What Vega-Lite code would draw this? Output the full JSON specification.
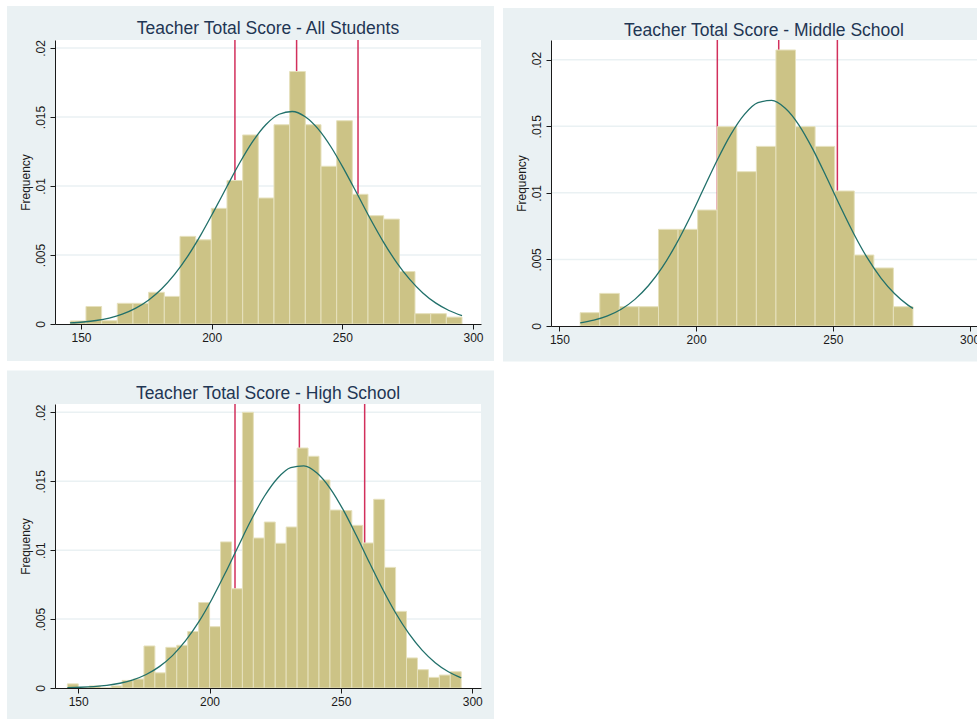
{
  "$schema": "https://vega.github.io/schema/vega-lite/v6.json",
  "padding": {"left": 6, "top": 5, "right": 0, "bottom": 0},
  "background": "white",
  "datasets": {
    "bars": [
      {"panel": "All", "lo": 145.90, "hi": 151.90, "f": 0.00022},
      {"panel": "All", "lo": 151.90, "hi": 157.89, "f": 0.00127},
      {"panel": "All", "lo": 157.89, "hi": 163.89, "f": 0.00024},
      {"panel": "All", "lo": 163.89, "hi": 169.88, "f": 0.0015},
      {"panel": "All", "lo": 169.88, "hi": 175.88, "f": 0.0015},
      {"panel": "All", "lo": 175.88, "hi": 181.88, "f": 0.0023},
      {"panel": "All", "lo": 181.88, "hi": 187.87, "f": 0.0020},
      {"panel": "All", "lo": 187.87, "hi": 193.87, "f": 0.00635},
      {"panel": "All", "lo": 193.87, "hi": 199.86, "f": 0.0061},
      {"panel": "All", "lo": 199.86, "hi": 205.86, "f": 0.00838},
      {"panel": "All", "lo": 205.86, "hi": 211.86, "f": 0.0104},
      {"panel": "All", "lo": 211.86, "hi": 217.85, "f": 0.0137},
      {"panel": "All", "lo": 217.85, "hi": 223.85, "f": 0.00913},
      {"panel": "All", "lo": 223.85, "hi": 229.84, "f": 0.01444},
      {"panel": "All", "lo": 229.84, "hi": 235.84, "f": 0.0183},
      {"panel": "All", "lo": 235.84, "hi": 241.84, "f": 0.01444},
      {"panel": "All", "lo": 241.84, "hi": 247.83, "f": 0.01143},
      {"panel": "All", "lo": 247.83, "hi": 253.83, "f": 0.01473},
      {"panel": "All", "lo": 253.83, "hi": 259.82, "f": 0.0094},
      {"panel": "All", "lo": 259.82, "hi": 265.82, "f": 0.00785},
      {"panel": "All", "lo": 265.82, "hi": 271.82, "f": 0.0076},
      {"panel": "All", "lo": 271.82, "hi": 277.81, "f": 0.0038},
      {"panel": "All", "lo": 277.81, "hi": 283.81, "f": 0.00075},
      {"panel": "All", "lo": 283.81, "hi": 289.80, "f": 0.00075},
      {"panel": "All", "lo": 289.80, "hi": 295.80, "f": 0.0005},
      {"panel": "Middle", "lo": 157.60, "hi": 164.76, "f": 0.0010},
      {"panel": "Middle", "lo": 164.76, "hi": 171.92, "f": 0.00245},
      {"panel": "Middle", "lo": 171.92, "hi": 179.08, "f": 0.00145},
      {"panel": "Middle", "lo": 179.08, "hi": 186.24, "f": 0.00145},
      {"panel": "Middle", "lo": 186.24, "hi": 193.40, "f": 0.00726},
      {"panel": "Middle", "lo": 193.40, "hi": 200.55, "f": 0.00726},
      {"panel": "Middle", "lo": 200.55, "hi": 207.71, "f": 0.00871},
      {"panel": "Middle", "lo": 207.71, "hi": 214.87, "f": 0.01497},
      {"panel": "Middle", "lo": 214.87, "hi": 222.03, "f": 0.01159},
      {"panel": "Middle", "lo": 222.03, "hi": 229.19, "f": 0.01349},
      {"panel": "Middle", "lo": 229.19, "hi": 236.35, "f": 0.02073},
      {"panel": "Middle", "lo": 236.35, "hi": 243.51, "f": 0.01497},
      {"panel": "Middle", "lo": 243.51, "hi": 250.67, "f": 0.01349},
      {"panel": "Middle", "lo": 250.67, "hi": 257.83, "f": 0.01014},
      {"panel": "Middle", "lo": 257.83, "hi": 264.99, "f": 0.00533},
      {"panel": "Middle", "lo": 264.99, "hi": 272.14, "f": 0.00436},
      {"panel": "Middle", "lo": 272.14, "hi": 279.30, "f": 0.00145},
      {"panel": "High", "lo": 145.90, "hi": 150.06, "f": 0.0003},
      {"panel": "High", "lo": 150.06, "hi": 154.23, "f": 0},
      {"panel": "High", "lo": 154.23, "hi": 158.39, "f": 0.00015},
      {"panel": "High", "lo": 158.39, "hi": 162.56, "f": 0},
      {"panel": "High", "lo": 162.56, "hi": 166.72, "f": 0.00015},
      {"panel": "High", "lo": 166.72, "hi": 170.88, "f": 0.00055},
      {"panel": "High", "lo": 170.88, "hi": 175.05, "f": 0.00065},
      {"panel": "High", "lo": 175.05, "hi": 179.21, "f": 0.00305},
      {"panel": "High", "lo": 179.21, "hi": 183.38, "f": 0.0011},
      {"panel": "High", "lo": 183.38, "hi": 187.54, "f": 0.00295},
      {"panel": "High", "lo": 187.54, "hi": 191.70, "f": 0.0031},
      {"panel": "High", "lo": 191.70, "hi": 195.87, "f": 0.0041},
      {"panel": "High", "lo": 195.87, "hi": 200.03, "f": 0.0062},
      {"panel": "High", "lo": 200.03, "hi": 204.20, "f": 0.00445},
      {"panel": "High", "lo": 204.20, "hi": 208.36, "f": 0.0106},
      {"panel": "High", "lo": 208.36, "hi": 212.52, "f": 0.0072},
      {"panel": "High", "lo": 212.52, "hi": 216.69, "f": 0.0200},
      {"panel": "High", "lo": 216.69, "hi": 220.85, "f": 0.01088},
      {"panel": "High", "lo": 220.85, "hi": 225.02, "f": 0.01204},
      {"panel": "High", "lo": 225.02, "hi": 229.18, "f": 0.0105},
      {"panel": "High", "lo": 229.18, "hi": 233.34, "f": 0.01168},
      {"panel": "High", "lo": 233.34, "hi": 237.51, "f": 0.01741},
      {"panel": "High", "lo": 237.51, "hi": 241.67, "f": 0.01681},
      {"panel": "High", "lo": 241.67, "hi": 245.84, "f": 0.01509},
      {"panel": "High", "lo": 245.84, "hi": 250.00, "f": 0.01291},
      {"panel": "High", "lo": 250.00, "hi": 254.16, "f": 0.01287},
      {"panel": "High", "lo": 254.16, "hi": 258.33, "f": 0.0118},
      {"panel": "High", "lo": 258.33, "hi": 262.49, "f": 0.01052},
      {"panel": "High", "lo": 262.49, "hi": 266.66, "f": 0.01369},
      {"panel": "High", "lo": 266.66, "hi": 270.82, "f": 0.00875},
      {"panel": "High", "lo": 270.82, "hi": 274.98, "f": 0.00556},
      {"panel": "High", "lo": 274.98, "hi": 279.15, "f": 0.00218},
      {"panel": "High", "lo": 279.15, "hi": 283.31, "f": 0.00133},
      {"panel": "High", "lo": 283.31, "hi": 287.48, "f": 0.00077},
      {"panel": "High", "lo": 287.48, "hi": 291.64, "f": 0.00094},
      {"panel": "High", "lo": 291.64, "hi": 295.80, "f": 0.00118}
    ],
    "curve": [
      {"panel": "All", "x": 145.8, "d": 0.0000781},
      {"panel": "All", "x": 150.8, "d": 0.000144},
      {"panel": "All", "x": 155.8, "d": 0.000254},
      {"panel": "All", "x": 160.8, "d": 0.000434},
      {"panel": "All", "x": 165.8, "d": 0.000713},
      {"panel": "All", "x": 170.8, "d": 0.00113},
      {"panel": "All", "x": 175.8, "d": 0.00172},
      {"panel": "All", "x": 180.8, "d": 0.00253},
      {"panel": "All", "x": 185.8, "d": 0.00359},
      {"panel": "All", "x": 190.8, "d": 0.00490},
      {"panel": "All", "x": 195.8, "d": 0.00644},
      {"panel": "All", "x": 200.8, "d": 0.00816},
      {"panel": "All", "x": 205.8, "d": 0.00995},
      {"panel": "All", "x": 210.8, "d": 0.0117},
      {"panel": "All", "x": 215.8, "d": 0.01325},
      {"panel": "All", "x": 220.8, "d": 0.01446},
      {"panel": "All", "x": 225.8, "d": 0.0152},
      {"panel": "All", "x": 230.8, "d": 0.0154},
      {"panel": "All", "x": 235.8, "d": 0.01502},
      {"panel": "All", "x": 240.8, "d": 0.01412},
      {"panel": "All", "x": 245.8, "d": 0.01279},
      {"panel": "All", "x": 250.8, "d": 0.01115},
      {"panel": "All", "x": 255.8, "d": 0.00938},
      {"panel": "All", "x": 260.8, "d": 0.00759},
      {"panel": "All", "x": 265.8, "d": 0.00592},
      {"panel": "All", "x": 270.8, "d": 0.00445},
      {"panel": "All", "x": 275.8, "d": 0.00323},
      {"panel": "All", "x": 280.8, "d": 0.00225},
      {"panel": "All", "x": 285.8, "d": 0.00151},
      {"panel": "All", "x": 290.8, "d": 0.00098},
      {"panel": "All", "x": 295.8, "d": 0.00061},
      {"panel": "Middle", "x": 157.6, "d": 0.000239},
      {"panel": "Middle", "x": 162.6, "d": 0.000436},
      {"panel": "Middle", "x": 167.6, "d": 0.000758},
      {"panel": "Middle", "x": 172.6, "d": 0.00126},
      {"panel": "Middle", "x": 177.6, "d": 0.00200},
      {"panel": "Middle", "x": 182.6, "d": 0.00304},
      {"panel": "Middle", "x": 187.6, "d": 0.00440},
      {"panel": "Middle", "x": 192.6, "d": 0.00611},
      {"panel": "Middle", "x": 197.6, "d": 0.00809},
      {"panel": "Middle", "x": 202.6, "d": 0.01025},
      {"panel": "Middle", "x": 207.6, "d": 0.01241},
      {"panel": "Middle", "x": 212.6, "d": 0.01435},
      {"panel": "Middle", "x": 217.6, "d": 0.01587},
      {"panel": "Middle", "x": 222.6, "d": 0.01677},
      {"panel": "Middle", "x": 227.6, "d": 0.01694},
      {"panel": "Middle", "x": 232.6, "d": 0.01635},
      {"panel": "Middle", "x": 237.6, "d": 0.01509},
      {"panel": "Middle", "x": 242.6, "d": 0.01330},
      {"panel": "Middle", "x": 247.6, "d": 0.01121},
      {"panel": "Middle", "x": 252.6, "d": 0.00903},
      {"panel": "Middle", "x": 257.6, "d": 0.00695},
      {"panel": "Middle", "x": 262.6, "d": 0.00511},
      {"panel": "Middle", "x": 267.6, "d": 0.00360},
      {"panel": "Middle", "x": 272.6, "d": 0.00242},
      {"panel": "Middle", "x": 277.6, "d": 0.00155},
      {"panel": "Middle", "x": 279.3, "d": 0.00132},
      {"panel": "High", "x": 145.9, "d": 0.0000263},
      {"panel": "High", "x": 150.9, "d": 0.0000533},
      {"panel": "High", "x": 155.9, "d": 0.000104},
      {"panel": "High", "x": 160.9, "d": 0.000193},
      {"panel": "High", "x": 165.9, "d": 0.000345},
      {"panel": "High", "x": 170.9, "d": 0.000593},
      {"panel": "High", "x": 175.9, "d": 0.000978},
      {"panel": "High", "x": 180.9, "d": 0.00155},
      {"panel": "High", "x": 185.9, "d": 0.00235},
      {"panel": "High", "x": 190.9, "d": 0.00343},
      {"panel": "High", "x": 195.9, "d": 0.00479},
      {"panel": "High", "x": 200.9, "d": 0.00644},
      {"panel": "High", "x": 205.9, "d": 0.00830},
      {"panel": "High", "x": 210.9, "d": 0.01027},
      {"panel": "High", "x": 215.9, "d": 0.01220},
      {"panel": "High", "x": 220.9, "d": 0.01391},
      {"panel": "High", "x": 225.9, "d": 0.01522},
      {"panel": "High", "x": 230.9, "d": 0.01599},
      {"panel": "High", "x": 235.9, "d": 0.01612},
      {"panel": "High", "x": 240.9, "d": 0.01560},
      {"panel": "High", "x": 245.9, "d": 0.01449},
      {"panel": "High", "x": 250.9, "d": 0.01292},
      {"panel": "High", "x": 255.9, "d": 0.01106},
      {"panel": "High", "x": 260.9, "d": 0.00908},
      {"panel": "High", "x": 265.9, "d": 0.00716},
      {"panel": "High", "x": 270.9, "d": 0.00542},
      {"panel": "High", "x": 275.9, "d": 0.00394},
      {"panel": "High", "x": 280.9, "d": 0.00275},
      {"panel": "High", "x": 285.9, "d": 0.00184},
      {"panel": "High", "x": 290.9, "d": 0.00118},
      {"panel": "High", "x": 295.8, "d": 0.000735}
    ],
    "quart": [
      {"panel": "All", "q": 208.9},
      {"panel": "All", "q": 232.5},
      {"panel": "All", "q": 256.0},
      {"panel": "Middle", "q": 207.75},
      {"panel": "Middle", "q": 230.2},
      {"panel": "Middle", "q": 251.65},
      {"panel": "High", "q": 209.7},
      {"panel": "High", "q": 234.2},
      {"panel": "High", "q": 259.05}
    ],
    "grid": [
      {"g": 0.005},
      {"g": 0.01},
      {"g": 0.015},
      {"g": 0.02}
    ]
  },
  "columns": 2,
  "bounds": "flush",
  "spacing": {"row": 78, "column": 70},
  "concat": [
    {
      "width": 426,
      "height": 284,
      "title": {"text": "Teacher Total Score - All Students", "offset": -32},
      "layer": [
        {
          "data": {"values": [{}]},
          "mark": {"type": "rect", "fill": "#eaf1f3", "clip": false},
          "encoding": {
            "x": {"datum": 121.68, "type": "quantitative", "scale": {"domain": [140.05, 303.06], "nice": false, "zero": false}, "axis": {"values": [150, 200, 250, 300], "title": null, "zindex": 1}},
            "x2": {"datum": 308.03},
            "y": {"datum": -0.002681, "type": "quantitative", "scale": {"domain": [0, 0.02058], "nice": false, "zero": false}, "axis": {"values": [0, 0.005, 0.01, 0.015, 0.02], "title": "Frequency", "zindex": 1}},
            "y2": {"datum": 0.023044}
          }
        },
        {
          "data": {"values": [{}]},
          "mark": {"type": "rect", "fill": "white", "clip": false},
          "encoding": {
            "x": {"datum": 140.05, "type": "quantitative", "axis": {"values": [150, 200, 250, 300], "title": null, "zindex": 1}},
            "x2": {"datum": 303.06},
            "y": {"datum": 0, "type": "quantitative", "axis": {"values": [0, 0.005, 0.01, 0.015, 0.02], "title": "Frequency", "zindex": 1}},
            "y2": {"datum": 0.02058}
          }
        },
        {
          "data": {"name": "grid"},
          "mark": {"type": "rule", "stroke": "#eaf1f3", "strokeWidth": 1.5},
          "encoding": {
            "y": {"field": "g", "type": "quantitative", "axis": {"values": [0, 0.005, 0.01, 0.015, 0.02], "title": "Frequency", "zindex": 1}}
          }
        },
        {
          "data": {"name": "quart"},
          "transform": [{"filter": "datum.panel == 'All'"}],
          "mark": {"type": "rule", "stroke": "#d2305c", "strokeWidth": 1.5},
          "encoding": {
            "x": {"field": "q", "type": "quantitative", "axis": {"values": [150, 200, 250, 300], "title": null, "zindex": 1}}
          }
        },
        {
          "data": {"name": "bars"},
          "transform": [{"filter": "datum.panel == 'All'"}],
          "mark": {"type": "rect", "fill": "#ccc386", "stroke": "#e6e1bd", "strokeWidth": 1},
          "encoding": {
            "x": {"field": "lo", "type": "quantitative", "axis": {"values": [150, 200, 250, 300], "title": null, "zindex": 1}},
            "x2": {"field": "hi"},
            "y": {"field": "f", "type": "quantitative", "axis": {"values": [0, 0.005, 0.01, 0.015, 0.02], "title": "Frequency", "zindex": 1}},
            "y2": {"datum": 0}
          }
        },
        {
          "data": {"name": "curve"},
          "transform": [{"filter": "datum.panel == 'All'"}],
          "mark": {"type": "line", "stroke": "#21706a", "strokeWidth": 1.3, "interpolate": "monotone"},
          "encoding": {
            "x": {"field": "x", "type": "quantitative", "axis": {"values": [150, 200, 250, 300], "title": null, "zindex": 1}},
            "y": {"field": "d", "type": "quantitative", "axis": {"values": [0, 0.005, 0.01, 0.015, 0.02], "title": "Frequency", "zindex": 1}}
          }
        }
      ]
    },
    {
      "width": 426,
      "height": 286,
      "title": {"text": "Teacher Total Score - Middle School", "offset": -31.5},
      "layer": [
        {
          "data": {"values": [{}]},
          "mark": {"type": "rect", "fill": "#eaf1f3", "clip": false},
          "encoding": {
            "x": {"datum": 129.38, "type": "quantitative", "scale": {"domain": [146.93, 302.71], "nice": false, "zero": false}, "axis": {"values": [150, 200, 250, 300], "title": null, "zindex": 1}},
            "x2": {"datum": 303.05},
            "y": {"datum": -0.002666, "type": "quantitative", "scale": {"domain": [0, 0.02148], "nice": false, "zero": false}, "axis": {"values": [0, 0.005, 0.01, 0.015, 0.02], "title": "Frequency", "zindex": 1}},
            "y2": {"datum": 0.023883}
          }
        },
        {
          "data": {"values": [{}]},
          "mark": {"type": "rect", "fill": "white", "clip": false},
          "encoding": {
            "x": {"datum": 146.93, "type": "quantitative", "axis": {"values": [150, 200, 250, 300], "title": null, "zindex": 1}},
            "x2": {"datum": 302.71},
            "y": {"datum": 0, "type": "quantitative", "axis": {"values": [0, 0.005, 0.01, 0.015, 0.02], "title": "Frequency", "zindex": 1}},
            "y2": {"datum": 0.02148}
          }
        },
        {
          "data": {"name": "grid"},
          "mark": {"type": "rule", "stroke": "#eaf1f3", "strokeWidth": 1.5},
          "encoding": {
            "y": {"field": "g", "type": "quantitative", "axis": {"values": [0, 0.005, 0.01, 0.015, 0.02], "title": "Frequency", "zindex": 1}}
          }
        },
        {
          "data": {"name": "quart"},
          "transform": [{"filter": "datum.panel == 'Middle'"}],
          "mark": {"type": "rule", "stroke": "#d2305c", "strokeWidth": 1.5},
          "encoding": {
            "x": {"field": "q", "type": "quantitative", "axis": {"values": [150, 200, 250, 300], "title": null, "zindex": 1}}
          }
        },
        {
          "data": {"name": "bars"},
          "transform": [{"filter": "datum.panel == 'Middle'"}],
          "mark": {"type": "rect", "fill": "#ccc386", "stroke": "#e6e1bd", "strokeWidth": 1},
          "encoding": {
            "x": {"field": "lo", "type": "quantitative", "axis": {"values": [150, 200, 250, 300], "title": null, "zindex": 1}},
            "x2": {"field": "hi"},
            "y": {"field": "f", "type": "quantitative", "axis": {"values": [0, 0.005, 0.01, 0.015, 0.02], "title": "Frequency", "zindex": 1}},
            "y2": {"datum": 0}
          }
        },
        {
          "data": {"name": "curve"},
          "transform": [{"filter": "datum.panel == 'Middle'"}],
          "mark": {"type": "line", "stroke": "#21706a", "strokeWidth": 1.3, "interpolate": "monotone"},
          "encoding": {
            "x": {"field": "x", "type": "quantitative", "axis": {"values": [150, 200, 250, 300], "title": null, "zindex": 1}},
            "y": {"field": "d", "type": "quantitative", "axis": {"values": [0, 0.005, 0.01, 0.015, 0.02], "title": "Frequency", "zindex": 1}}
          }
        }
      ]
    },
    {
      "width": 426,
      "height": 284,
      "title": {"text": "Teacher Total Score - High School", "offset": -31.5},
      "layer": [
        {
          "data": {"values": [{}]},
          "mark": {"type": "rect", "fill": "#eaf1f3", "clip": false},
          "encoding": {
            "x": {"datum": 122.92, "type": "quantitative", "scale": {"domain": [141.19, 303.33], "nice": false, "zero": false}, "axis": {"values": [150, 200, 250, 300], "title": null, "zindex": 1}},
            "x2": {"datum": 308.28},
            "y": {"datum": -0.00232, "type": "quantitative", "scale": {"domain": [0, 0.020602], "nice": false, "zero": false}, "axis": {"values": [0, 0.005, 0.01, 0.015, 0.02], "title": "Frequency", "zindex": 1}},
            "y2": {"datum": 0.023025}
          }
        },
        {
          "data": {"values": [{}]},
          "mark": {"type": "rect", "fill": "white", "clip": false},
          "encoding": {
            "x": {"datum": 141.19, "type": "quantitative", "axis": {"values": [150, 200, 250, 300], "title": null, "zindex": 1}},
            "x2": {"datum": 303.33},
            "y": {"datum": 0, "type": "quantitative", "axis": {"values": [0, 0.005, 0.01, 0.015, 0.02], "title": "Frequency", "zindex": 1}},
            "y2": {"datum": 0.020602}
          }
        },
        {
          "data": {"name": "grid"},
          "mark": {"type": "rule", "stroke": "#eaf1f3", "strokeWidth": 1.5},
          "encoding": {
            "y": {"field": "g", "type": "quantitative", "axis": {"values": [0, 0.005, 0.01, 0.015, 0.02], "title": "Frequency", "zindex": 1}}
          }
        },
        {
          "data": {"name": "quart"},
          "transform": [{"filter": "datum.panel == 'High'"}],
          "mark": {"type": "rule", "stroke": "#d2305c", "strokeWidth": 1.5},
          "encoding": {
            "x": {"field": "q", "type": "quantitative", "axis": {"values": [150, 200, 250, 300], "title": null, "zindex": 1}}
          }
        },
        {
          "data": {"name": "bars"},
          "transform": [{"filter": "datum.panel == 'High'"}],
          "mark": {"type": "rect", "fill": "#ccc386", "stroke": "#e6e1bd", "strokeWidth": 1},
          "encoding": {
            "x": {"field": "lo", "type": "quantitative", "axis": {"values": [150, 200, 250, 300], "title": null, "zindex": 1}},
            "x2": {"field": "hi"},
            "y": {"field": "f", "type": "quantitative", "axis": {"values": [0, 0.005, 0.01, 0.015, 0.02], "title": "Frequency", "zindex": 1}},
            "y2": {"datum": 0}
          }
        },
        {
          "data": {"name": "curve"},
          "transform": [{"filter": "datum.panel == 'High'"}],
          "mark": {"type": "line", "stroke": "#21706a", "strokeWidth": 1.3, "interpolate": "monotone"},
          "encoding": {
            "x": {"field": "x", "type": "quantitative", "axis": {"values": [150, 200, 250, 300], "title": null, "zindex": 1}},
            "y": {"field": "d", "type": "quantitative", "axis": {"values": [0, 0.005, 0.01, 0.015, 0.02], "title": "Frequency", "zindex": 1}}
          }
        }
      ]
    }
  ],
  "config": {
    "font": "Liberation Sans",
    "view": {"stroke": null},
    "title": {
      "font": "Liberation Sans",
      "fontSize": 17.5,
      "fontWeight": "normal",
      "color": "#1f3654",
      "anchor": "middle",
      "frame": "group",
      "baseline": "alphabetic",
      "zindex": 1
    },
    "axis": {
      "grid": false,
      "labelFont": "Liberation Sans",
      "labelFontSize": 12,
      "labelColor": "#1a1a1a",
      "domainColor": "#1a1a1a",
      "tickColor": "#1a1a1a",
      "domainWidth": 1,
      "tickWidth": 1,
      "tickSize": 5,
      "labelPadding": 3,
      "labelFlush": false,
      "labelOverlap": false,
      "titleFont": "Liberation Sans",
      "titleFontSize": 12,
      "titleFontWeight": "normal",
      "titleColor": "#1a1a1a"
    },
    "axisY": {
      "labelAngle": -90,
      "labelAlign": "center",
      "labelBaseline": "bottom",
      "titlePadding": 2,
      "labelExpr": "datum.value == 0 ? '0' : slice(format(datum.value, '.3~f'), 1)"
    }
  }
}
